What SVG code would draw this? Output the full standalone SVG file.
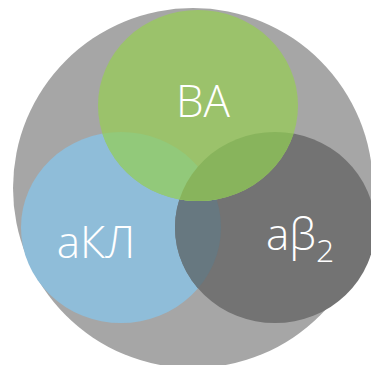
<svg xmlns="http://www.w3.org/2000/svg" width="371" height="365" viewBox="0 0 371 365">
<style>
.lbl{font-family:"Open Sans","DejaVu Sans",sans-serif;fill:#ffffff;font-size:44px;font-weight:300}
</style>
<defs>
<clipPath id="cBlue"><ellipse cx="121" cy="227.5" rx="100" ry="95.5"/></clipPath>
<clipPath id="cDark"><ellipse cx="275" cy="227.5" rx="100" ry="95.5"/></clipPath>
</defs>
<rect width="371" height="365" fill="#ffffff"/>
<g id="outer"><circle cx="193" cy="188" r="180" fill="#a6a6a6"/></g>
<g id="akl">
<ellipse cx="121" cy="227.5" rx="100" ry="95.5" fill="#8fbdd9"/>
</g>
<g id="ab2">
<ellipse cx="275" cy="227.5" rx="100" ry="95.5" fill="#737373"/>
<ellipse cx="275" cy="227.5" rx="100" ry="95.5" fill="#677880" clip-path="url(#cBlue)"/>
</g>
<g id="va">
<ellipse cx="198" cy="105.5" rx="100" ry="95.5" fill="#9bc26b"/>
<ellipse cx="198" cy="105.5" rx="100" ry="95.5" fill="#92c97a" clip-path="url(#cBlue)"/>
<ellipse cx="198" cy="105.5" rx="100" ry="95.5" fill="#88b45c" clip-path="url(#cDark)"/>
</g>
<g id="labels">
<text class="lbl" x="203" y="117" text-anchor="middle">ВА</text>
<text class="lbl" x="96" y="258" text-anchor="middle">аКЛ</text>
<text class="lbl" x="266" y="250">аβ<tspan font-size="32" dy="12">2</tspan></text>
</g>
</svg>
